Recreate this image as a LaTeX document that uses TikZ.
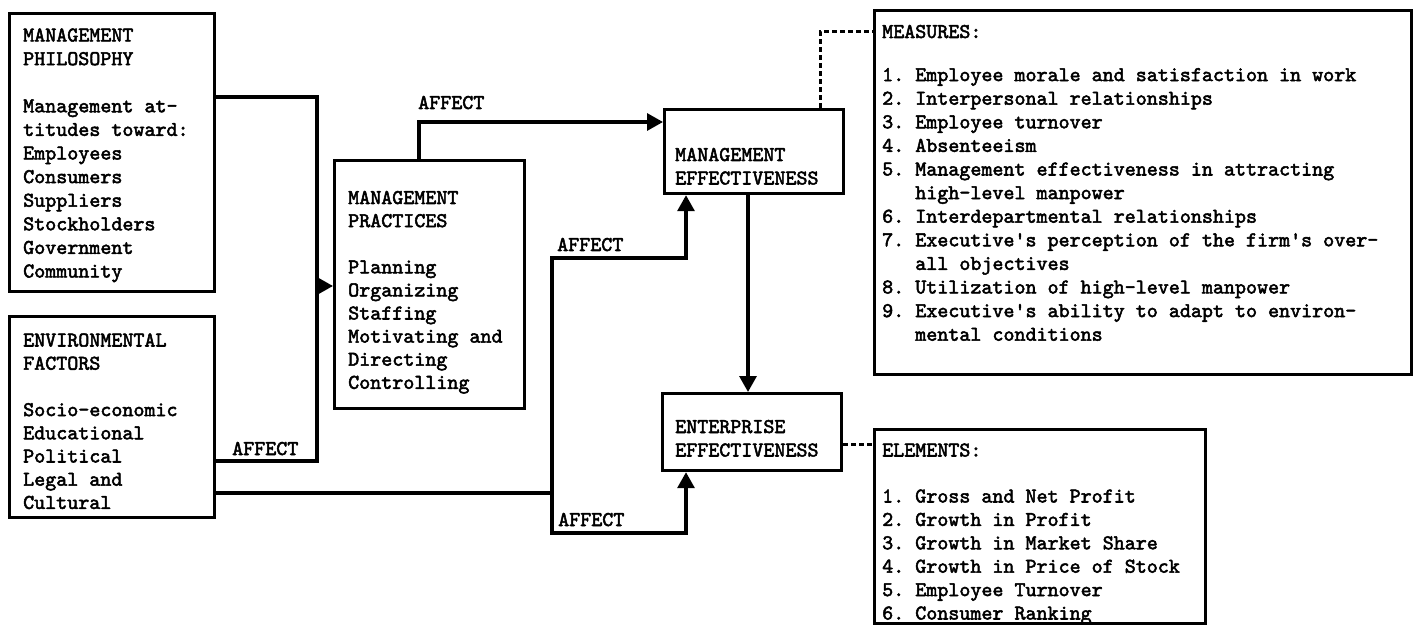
\documentclass[tikz,border=0pt]{standalone}
\usepackage{fontspec}
\usetikzlibrary{arrows.meta}
\newfontfamily\twfam{lmmono10-regular.otf}[FakeBold=2.4]
\newcommand\twfont[1]{\fontsize{21}{#1}\selectfont\twfam}
\begin{document}
\begin{tikzpicture}[x=1pt,y=-1pt,
  box/.style={draw,line width=3.2pt,inner sep=0pt,anchor=north west},
  txt/.style={inner sep=0pt,anchor=base west},
  conn/.style={line width=3.2pt,line cap=rect},
  tip/.tip={Triangle[length=16pt,width=17pt]},
  arr/.style={line width=3.2pt,-tip},
  dots/.style={line width=3pt,dash pattern=on 5pt off 3pt}]
\useasboundingbox (0,0) rectangle (1414,631);

% boxes
\node[box,minimum width=205pt,minimum height=278pt] (mp) at (8,12) {};
\node[box,minimum width=205pt,minimum height=201pt] (ef) at (8,315) {};
\node[box,minimum width=190pt,minimum height=248pt] (mpr) at (333,159) {};
\node[box,minimum width=179pt,minimum height=84pt] (me) at (663,108) {};
\node[box,minimum width=179pt,minimum height=77pt] (ee) at (661,392) {};
\node[box,minimum width=537pt,minimum height=364pt] (meas) at (873,9) {};
\node[box,minimum width=331pt,minimum height=194pt] (elem) at (873,428) {};

% texts
\node[txt,font=\twfont{23.6}] (mpt) at (23,41.5) {\begin{tabular}[t]{@{}l@{}}MANAGEMENT\\PHILOSOPHY\\[23.6pt]Management at-\\titudes toward:\\Employees\\Consumers\\Suppliers\\Stockholders\\Government\\Community\end{tabular}};
\node[txt,font=\twfont{23.2}] (eft) at (23,346.5) {\begin{tabular}[t]{@{}l@{}}ENVIRONMENTAL\\FACTORS\\[23.2pt]Socio-economic\\Educational\\Political\\Legal and\\Cultural\end{tabular}};
\node[txt,font=\twfont{23.1}] (mprt) at (348,204) {\begin{tabular}[t]{@{}l@{}}MANAGEMENT\\PRACTICES\\[23.1pt]Planning\\Organizing\\Staffing\\Motivating and\\Directing\\Controlling\end{tabular}};
\node[txt,font=\twfont{23.5}] (met) at (675,161) {\begin{tabular}[t]{@{}l@{}}MANAGEMENT\\EFFECTIVENESS\end{tabular}};
\node[txt,font=\twfont{23.5}] (eet) at (675,433) {\begin{tabular}[t]{@{}l@{}}ENTERPRISE\\EFFECTIVENESS\end{tabular}};
\node[txt,font=\twfont{23.6}] (meast) at (882,38) {\begin{tabular}[t]{@{}l@{\ }l@{}}\multicolumn{2}{@{}l@{}}{MEASURES:}\\[19.5pt]
1. & Employee morale and satisfaction in work\\
2. & Interpersonal relationships\\
3. & Employee turnover\\
4. & Absenteeism\\
5. & Management effectiveness in attracting\\
   & high-level manpower\\
6. & Interdepartmental relationships\\
7. & Executive\textquotesingle s perception of the firm\textquotesingle s over-\\
   & all objectives\\
8. & Utilization of high-level manpower\\
9. & Executive\textquotesingle s ability to adapt to environ-\\
   & mental conditions\end{tabular}};
\node[txt,font=\twfont{23.4}] (elemt) at (882,456.5) {\begin{tabular}[t]{@{}l@{\ }l@{}}\multicolumn{2}{@{}l@{}}{ELEMENTS:}\\[22.6pt]
1. & Gross and Net Profit\\
2. & Growth in Profit\\
3. & Growth in Market Share\\
4. & Growth in Price of Stock\\
5. & Employee Turnover\\
6. & Consumer Ranking\end{tabular}};

% labels
\node[txt,font=\twfont{23.5}] (la1) at (418,109) {AFFECT};
\node[txt,font=\twfont{23.5}] (la2) at (557,251) {AFFECT};
\node[txt,font=\twfont{23.5}] (la3) at (232,455) {AFFECT};
\node[txt,font=\twfont{23.5}] (la4) at (558,526) {AFFECT};

% connectors
\coordinate (c1) at (317,97);
\coordinate (j1) at (317,286);
\coordinate (c2) at (317,461);
\draw[conn] (mp.east |- c1) -- (c1) -- (c2) -- (ef.east |- c2);
\draw[arr] (j1) -- (mpr.west |- j1);
\coordinate (c3) at (419,122);
\draw[arr] (mpr.north -| c3) -- (c3) -- (me.west |- c3);
\coordinate (c4) at (552,258);
\coordinate (c5) at (686,258);
\coordinate (c6) at (552,533);
\coordinate (c7) at (686,533);
\coordinate (c8) at (552,493);
\draw[line width=3.2pt,tip-tip] (me.south -| c5) -- (c5) -- (c4) -- (c6) -- (c7) -- (ee.south -| c7);
\draw[conn] (ef.east |- c8) -- (c8);
\coordinate (c9) at (748,300);
\draw[arr] (me.south -| c9) -- (ee.north -| c9);
\coordinate (c10) at (820,32);
\draw[dots] (me.north -| c10) -- (c10) -- (meas.west |- c10);
\coordinate (c11) at (856,444);
\draw[dots] (ee.east |- c11) -- (elem.west |- c11);
\end{tikzpicture}
\end{document}
